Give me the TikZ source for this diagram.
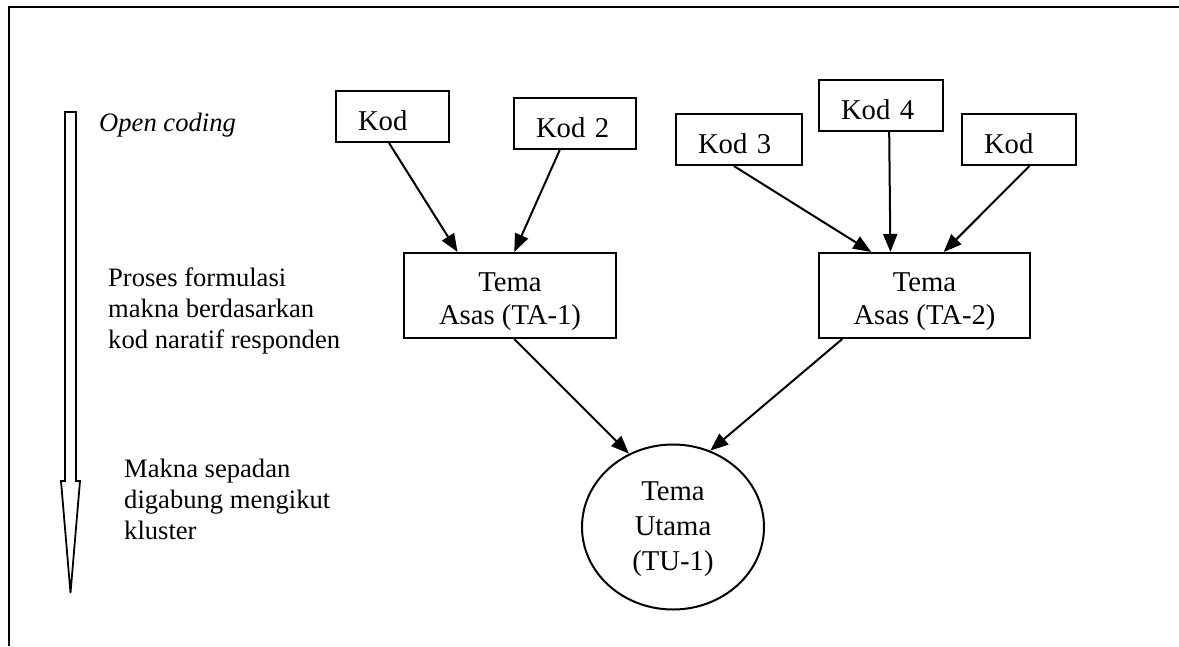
\documentclass[tikz,border=0pt]{standalone}
\usepackage{fontspec}
\setmainfont{Liberation Serif}
\usepackage{tikz}
\usetikzlibrary{calc,positioning,shapes.geometric,arrows.meta}

\tikzset{
    kodbox/.style={draw, line width=2pt, inner xsep=22pt, inner ysep=0pt, minimum height=51pt,
        align=left, text height=27pt, text depth=0pt, font=\fontsize{28.7}{33}\selectfont},
    temabox/.style={draw, line width=2pt, minimum width=212pt, minimum height=85pt, inner sep=0pt,
        align=center, text height=64pt, font=\fontsize{28.7}{33}\selectfont},
    utama/.style={draw, ellipse, line width=2pt, minimum width=182pt, minimum height=165pt, inner sep=0pt,
        align=center, text height=93pt, font=\fontsize{28.7}{35}\selectfont},
    note/.style={inner sep=0pt, align=left, font=\fontsize{26.6}{31}\selectfont},
    conn/.style={line width=2pt, -{Triangle[length=18pt,width=14pt]}}
}

\begin{document}
\begin{tikzpicture}[x=1pt,y=-1pt]

        \useasboundingbox (0,0) rectangle (1179,646);

        % frame (top and left edge only)
        \draw[line width=2pt] (9,646) -- (9,7) -- (1179,7);

        % hollow arrow on the left
        \draw[line width=1.8pt] (65,112) -- (76,112) -- (76,481) -- (80,481) -- (70.5,593)
            -- (61,481) -- (65,481) -- cycle;

        \node[note, anchor=base west, font=\fontsize{26.6}{31}\selectfont\itshape] (open) at (99,131) {Open coding};
        \node[note, anchor=north west] (proses) at (108,268) {Proses formulasi\\makna berdasarkan\\kod naratif responden};
        \node[note, anchor=north west] (makna) at (124,459) {Makna sepadan\\digabung mengikut\\kluster};

        % code boxes
        \foreach \nm/\x/\y/\w/\txt in {kodA/335/90/113/Kod, kodB/513/97/122/Kod 2, kodC/675/113/126/Kod 3,
                kodD/818/79/124/Kod 4, kodE/961/113/114/Kod} {
            \pgfmathsetmacro{\tw}{\w-44}
            \node[kodbox, text width=\tw pt, anchor=north west] (\nm) at (\x,\y) {\txt};
        }

        % theme boxes
        \node[temabox, anchor=north west] (taA) at (403,252) {Tema\\Asas (TA-1)};
        \node[temabox, anchor=north west, minimum width=211pt] (taB) at (818,252) {Tema\\Asas (TA-2)};

        % main theme
        \node[utama] (tuA) at (673,527) {Tema\\Utama\\(TU-1)};

        % arrows from codes to themes
        \foreach \src/\fs/\dst/\fd in {kodA/0.47/taA/0.255, kodB/0.377/taA/0.52, kodC/0.46/taB/0.25,
                kodD/0.565/taB/0.34, kodE/0.59/taB/0.59} {
            \draw[conn] ($(\src.south west)!\fs!(\src.south east)$) -- ($(\dst.north west)!\fd!(\dst.north east)$);
        }

        \draw[conn] ($(taA.south west)!0.52!(taA.south east)$) -- (tuA.121);
        \draw[conn] ($(taB.south west)!0.114!(taB.south east)$) -- (tuA.64);

\end{tikzpicture}
\end{document}
